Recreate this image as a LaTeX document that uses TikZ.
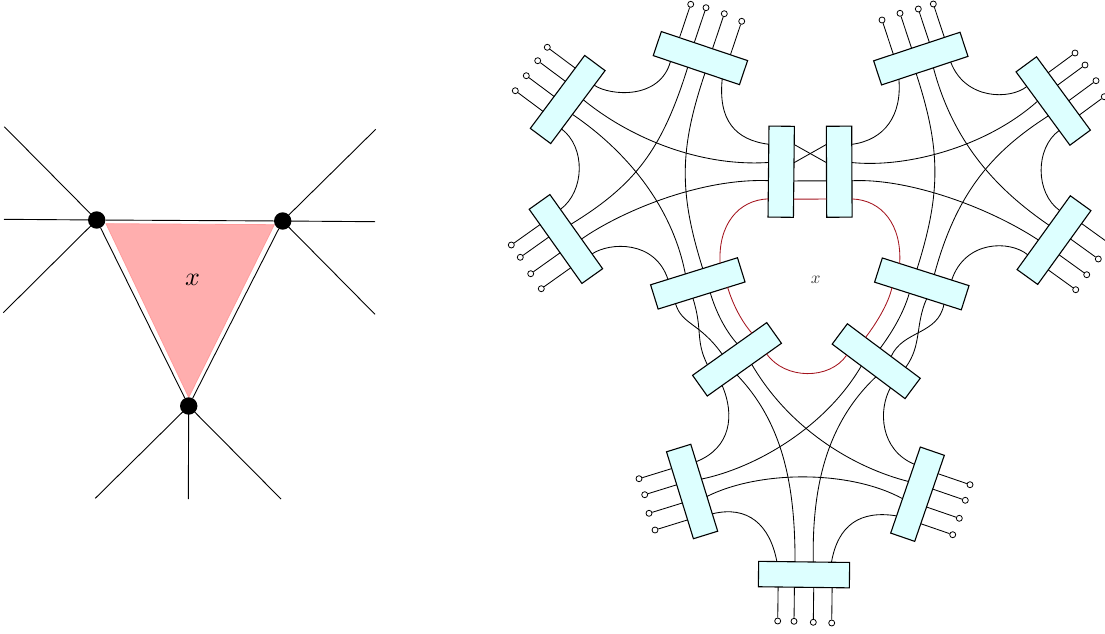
\documentclass[tikz,border=0pt]{standalone}
\usetikzlibrary{calc}
\definecolor{cellfill}{HTML}{DDFFFF}
\definecolor{wirered}{HTML}{A3141E}
\definecolor{tripink}{HTML}{FFAEAE}
\definecolor{tripinkedge}{HTML}{FF9C9C}
\newcommand{\mkports}[1]{%
  \foreach \f/\n in {0.2/1,0.4/2,0.6/3,0.8/4}{%
    \coordinate (#1n\n) at ($(#1.north west)!\f!(#1.north east)$);
    \coordinate (#1s\n) at ($(#1.south west)!\f!(#1.south east)$);
  }}
\tikzset{
  cell/.style={draw=black,fill=cellfill,line width=1.1pt,minimum width=91pt,minimum height=25.4pt,inner sep=0pt,outer sep=0pt},
  wire/.style={draw=black,line width=0.85pt},
  redwire/.style={draw=wirered,line width=0.85pt},
  leaf/.style={circle,draw=black,fill=white,line width=0.8pt,minimum size=6pt,inner sep=0pt},
  vertex/.style={circle,fill=black,minimum size=17.4pt,inner sep=0pt},
  edge/.style={draw=black,line width=0.9pt}
}
\begin{document}
\begin{tikzpicture}[x=1pt,y=-1pt]
\useasboundingbox (0,0) rectangle (1105,634);
% left figure
\fill[fill=tripink,draw=tripinkedge,line width=0.8pt] (106,223.7) -- (274.3,224.7) -- (188.7,397.3) -- cycle;
\node[inner sep=0pt,scale=2.6] (xl) at (192.6,280) {$x$};
\node[vertex] (v1) at (96.7,220) {};
\node[vertex] (v2) at (282.7,221) {};
\node[vertex] (v3) at (188.7,406) {};
\foreach \nm/\x/\y in {a1/4.3/126.7,a2/4/219.3,a3/3.3/312.7}{\coordinate (\nm) at (\x,\y); \draw[edge] (v1.center) -- (\nm);}
\foreach \nm/\x/\y in {b1/375.7/129.3,b2/375/221.7,b3/375/314.3}{\coordinate (\nm) at (\x,\y); \draw[edge] (v2.center) -- (\nm);}
\foreach \nm/\x/\y in {c1/95.3/498.3,c2/188.3/499,c3/281/499}{\coordinate (\nm) at (\x,\y); \draw[edge] (v3.center) -- (\nm);}
\draw[edge] (v1) -- (v2);
\draw[edge] (v2) -- (v3);
\draw[edge] (v3) -- (v1);
% right figure: cells
\foreach \nm/\x/\y/\r in {
  A/700.4/58.1/-18.6, B/567.7/99.5/53.3, C/565.9/239/-54.6, D/697.8/283.4/17.3,
  E/781.2/171.7/89.4, F/839.2/171.7/-89.75, G/920.8/58.6/18.3, H/1053.2/101/-53.7,
  I/1054/240.1/54.2, J/921.8/283.9/-17.7, K/737/359.3/35.4, L/876.2/361.2/-36.8,
  M/692.1/491.5/-72.8, N/917.5/494.2/71, O/804/574.6/-0.7}{
  \node[cell,rotate=\r] (\nm) at (\x,\y) {};
  \mkports{\nm}
}
\coordinate (Lr1) at ($(L.north west)!0.25!(L.north east)$);
\coordinate (Lr2) at ($(L.north west)!0.45!(L.north east)$);
% outer legs: each meets its cell at a right angle
\foreach \b/\s/\i/\x/\y in {
  B/north/1/515.3/90.7,B/north/2/526.3/75.7,B/north/3/537.7/60.7,B/north/4/547.3/47.3,
  A/north/1/690.7/4.3,A/north/2/706/7.7,A/north/3/724.3/13.7,A/north/4/741.7/21.3,
  C/south/1/511.3/245,C/south/2/520.3/257.3,C/south/3/530.7/273.7,C/south/4/541.3/288.7,
  G/north/1/882/20,G/north/2/900/13.3,G/north/3/918.3/9,G/north/4/933.3/4,
  H/north/1/1075/53,H/north/2/1085/65,H/north/3/1096/80.7,H/north/4/1104.3/96.7,
  I/south/1/1075.7/289.7,I/south/2/1086.7/274.7,I/south/3/1098.3/259,I/south/4/1110/244,
  M/south/1/639/478.7,M/south/2/644.7/494.7,M/south/3/649/513.3,M/south/4/655/530,
  N/south/1/952.7/534.7,N/south/2/959.3/518.3,N/south/3/965.3/500.3,N/south/4/970/484.7,
  O/south/1/777.7/621,O/south/2/794/621.3,O/south/3/813.3/622.3,O/south/4/831.7/623}{
  \node[leaf] (\b c\i) at (\x,\y) {};
  \draw[wire] ($(\b.\s\space west)!(\b c\i)!(\b.\s\space east)$) -- (\b c\i);
}
% upper left wires
\draw[wire] (Bs4) .. controls (610,96) and (660,100) .. (As1);
\draw[wire] (Bs3) .. controls (630,138) and (700,167) .. (En3);
\draw[wire] (Bs2) .. controls (625,150) and (672,205) .. (Dn2);
\draw[wire] (Bs1) .. controls (585.7,147) and (585,191) .. (Cn1);
\draw[wire] (Cn2) .. controls (635,185) and (662,150) .. (As2);
\draw[wire] (Cn3) .. controls (620,212) and (700,178) .. (En2);
\draw[wire] (Cn4) .. controls (610,242) and (655,240) .. (Dn1);
\draw[wire] (As3) .. controls (679.4,149) and (678.7,192) .. (Dn3);
\draw[wire] (As4) .. controls (718,120) and (735,140) .. (En4);
\draw[redwire] (En1) .. controls (738,200) and (718,225) .. (Dn4);
% between the two central cells
\draw[wire] (Es4) -- (Fs2);
\draw[wire] (Es3) -- (Fs1);
\draw[wire] (Es2) -- (Fs3);
\draw[redwire] (Es1) -- (Fs4);
% upper right wires
\draw[wire] (Fn1) .. controls (885,140) and (902,115) .. (Gs1);
\draw[wire] (Fn2) .. controls (905,168) and (985,148) .. (Hs2);
\draw[wire] (Fn3) .. controls (905,178) and (985,205) .. (In2);
\draw[redwire] (Fn4) .. controls (882,200) and (902,225) .. (Jn1);
\draw[wire] (Gs2) .. controls (941,149.5) and (941,193) .. (Jn2);
\draw[wire] (Gs3) .. controls (955,150) and (1005,195) .. (In3);
\draw[wire] (Gs4) .. controls (965,100) and (1010,100) .. (Hs1);
\draw[wire] (Hs3) .. controls (995,150) and (957,190) .. (Jn3);
\draw[wire] (Hs4) .. controls (1035,148) and (1035,193) .. (In4);
\draw[wire] (In1) .. controls (1010,240) and (965,240) .. (Jn4);
% middle links
\draw[wire] (Ds1) .. controls (682,325) and (699,322) .. (Kn2);
\draw[wire] (Ds2) .. controls (703,330) and (695,340) .. (Kn1);
\draw[wire] (Ds3) .. controls (716,312) and (725,330) .. (Kn3);
\draw[redwire] (Ds4) .. controls (733,305) and (742,322) .. (Kn4);
\draw[redwire] (Js1) .. controls (888,305) and (875,325) .. (Lr1);
\draw[wire] (Js2) .. controls (903,315) and (890,335) .. (Lr2);
\draw[wire] (Js3) .. controls (915,325) and (922,345) .. (Ln4);
\draw[wire] (Js4) .. controls (938,335) and (903,330) .. (Ln3);
\draw[redwire] (Ks4) .. controls (785,380) and (830,380) .. (Ls1);
% lower wires
\draw[wire] (Ks1) .. controls (735,415) and (731,448) .. (Mn1);
\draw[wire] (Ks2) .. controls (785,425) and (795,490) .. (On2);
\draw[wire] (Ks3) .. controls (790,430) and (855,468) .. (Nn3);
\draw[wire] (Ls2) .. controls (825,428) and (755,468) .. (Mn2);
\draw[wire] (Ls3) .. controls (825,425) and (812,490) .. (On3);
\draw[wire] (Ls4) .. controls (878,410) and (880,450) .. (Nn4);
\draw[wire] (Mn3) .. controls (760,470) and (850,470) .. (Nn2);
\draw[wire] (Mn4) .. controls (748,505) and (770,525) .. (On1);
\draw[wire] (Nn1) .. controls (860,510) and (838,525) .. (On4);
\node[inner sep=0pt,text=black!80,scale=1.7] (xr) at (815.7,280) {$x$};
\end{tikzpicture}
\end{document}
